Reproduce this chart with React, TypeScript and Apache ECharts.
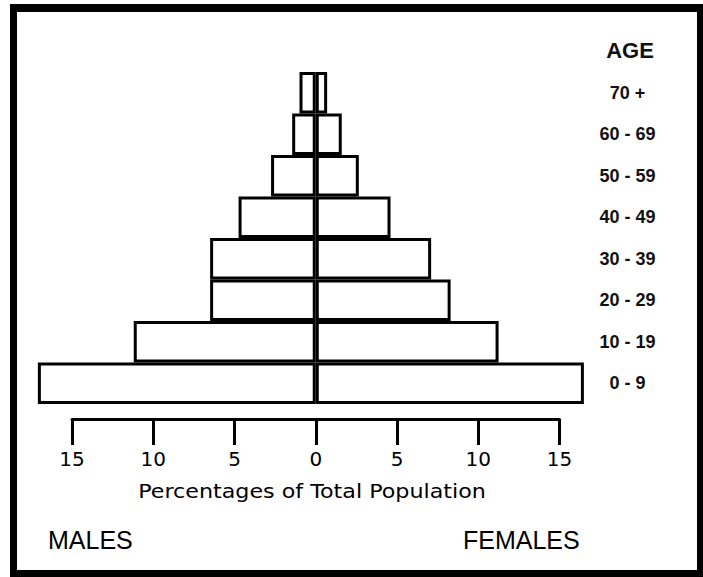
import React, { useEffect, useRef } from "react";
import * as echarts from "echarts";

const ageGroups = ["0 - 9", "10 - 19", "20 - 29", "30 - 39", "40 - 49", "50 - 59", "60 - 69", "70 +"];
const malesPct = [17.1, 11.2, 6.5, 6.5, 4.75, 2.75, 1.45, 1.0];
const femalesPct = [16.5, 11.25, 8.3, 7.1, 4.6, 2.65, 1.6, 0.7];
const axisTitle = "Percentages of Total Population";
const ageTitle = "AGE";
const leftLabel = "MALES";
const rightLabel = "FEMALES";

export default function App() {
  const ref = useRef<HTMLDivElement>(null);
  useEffect(() => {
    if (!ref.current) return;
    const chart = echarts.init(ref.current, null, { renderer: "svg" });
    const barStyle = { color: "#fff", borderColor: "#000", borderWidth: 3 };
    chart.setOption({
      animation: false,
      backgroundColor: "#fff",
      grid: { left: 72, right: 143.5, top: 72, bottom: 173 },
      xAxis: {
        type: "value",
        min: -15,
        max: 15,
        interval: 5,
        position: "bottom",
        offset: 15,
        splitLine: { show: false },
        axisLine: { show: true, lineStyle: { color: "#000", width: 3 } },
        axisTick: { show: true, length: 26, lineStyle: { color: "#000", width: 3 } },
        axisLabel: {
          margin: 30,
          color: "#000",
          fontFamily: "DejaVu Sans",
          fontSize: 20,
          formatter: (v: number) => String(Math.abs(v)),
        },
      },
      yAxis: {
        type: "category",
        data: ageGroups,
        position: "right",
        axisLine: { show: false },
        axisTick: { show: false },
        axisLabel: {
          margin: 68,
          align: "center",
          color: "#111",
          fontFamily: "Liberation Sans",
          fontWeight: "bold",
          fontSize: 18,
          padding: [0, 0, 6, 0],
        },
      },
      series: [
        {
          name: "Males",
          type: "bar",
          stack: "pop",
          barCategoryGap: 0,
          clip: false,
          data: malesPct.map((v) => -v),
          itemStyle: barStyle,
        },
        {
          name: "Females",
          type: "bar",
          stack: "pop",
          barCategoryGap: 0,
          clip: false,
          data: femalesPct,
          itemStyle: barStyle,
        },
      ],
      graphic: [
        { type: "rect", shape: { x: 10, y: 4, width: 693, height: 8 }, style: { fill: "#000" } },
        { type: "rect", shape: { x: 10, y: 4, width: 7, height: 573 }, style: { fill: "#000" } },
        { type: "rect", shape: { x: 697, y: 4, width: 6, height: 573 }, style: { fill: "#000" } },
        { type: "rect", shape: { x: 10, y: 570, width: 693, height: 7 }, style: { fill: "#000" } },
        {
          type: "text",
          x: 630,
          y: 50,
          style: {
            text: ageTitle,
            fill: "#111",
            font: "bold 22px 'Liberation Sans'",
            textAlign: "center",
            textVerticalAlign: "middle",
          },
        },
        {
          type: "text",
          x: 312,
          y: 492,
          scaleX: 1.17,
          style: {
            text: axisTitle,
            fill: "#000",
            font: "19px 'DejaVu Sans'",
            textAlign: "center",
            textVerticalAlign: "middle",
          },
        },
        {
          type: "text",
          x: 48,
          y: 540,
          style: {
            text: leftLabel,
            fill: "#000",
            font: "25px 'Liberation Sans'",
            textAlign: "left",
            textVerticalAlign: "middle",
          },
        },
        {
          type: "text",
          x: 463,
          y: 540,
          style: {
            text: rightLabel,
            fill: "#000",
            font: "25px 'Liberation Sans'",
            textAlign: "left",
            textVerticalAlign: "middle",
          },
        },
      ],
    });
    return () => chart.dispose();
  }, []);
  return (
    <div
      ref={ref}
      style={{ position: "absolute", left: 0, top: 0, width: 703, height: 577 }}
    />
  );
}
